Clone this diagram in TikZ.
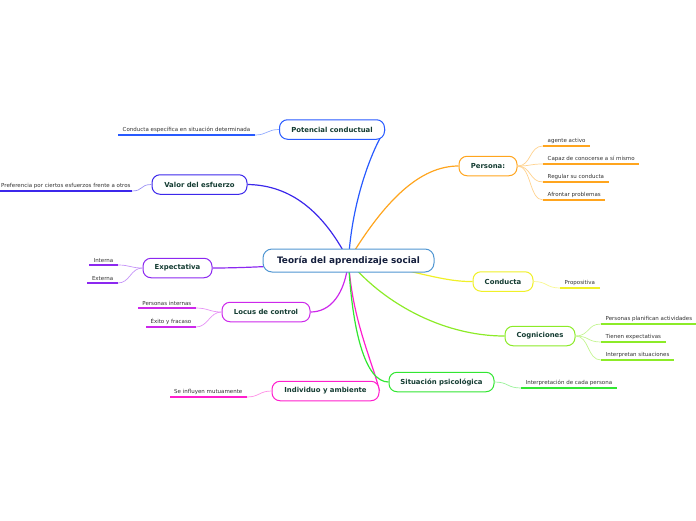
\documentclass[tikz,border=0pt]{standalone}
\usepackage{fontspec}
\setmainfont{DejaVu Sans}
\usetikzlibrary{backgrounds}
\definecolor{cblue}{RGB}{80,150,210}
\definecolor{cpot}{RGB}{40,90,255}
\definecolor{cval}{RGB}{60,40,235}
\definecolor{cexp}{RGB}{140,40,240}
\definecolor{cloc}{RGB}{205,40,235}
\definecolor{cind}{RGB}{255,30,205}
\definecolor{cper}{RGB}{255,165,30}
\definecolor{ccon}{RGB}{240,240,40}
\definecolor{ccog}{RGB}{140,235,40}
\definecolor{csit}{RGB}{50,230,50}
\definecolor{nodetext}{RGB}{20,60,50}
\definecolor{ctext}{RGB}{20,30,60}
\definecolor{leaftext}{RGB}{50,50,50}
\begin{document}
\begin{tikzpicture}[x=1pt,y=-1pt,
  mainbox/.style={draw=#1, line width=1pt, rounded corners=8pt, fill=white,
    minimum height=19.5pt, inner sep=0pt, text=nodetext,
    font=\bfseries\fontsize{6.9}{8}\selectfont},
  leafnode/.style={text=leaftext, inner xsep=4.5pt, inner ysep=2.2pt,
    font=\fontsize{5.5}{6.5}\selectfont},
  bigedge/.style={draw=#1, line width=1.2pt},
  twig/.style={draw=#1!50!white, line width=0.7pt},
  uline/.style={draw=#1, line width=1.5pt}]
\useasboundingbox (0,0) rectangle (696,520);

% central
\node[draw=cblue, line width=1pt, rounded corners=9pt, fill=white, minimum width=171pt,
  minimum height=23pt, inner sep=0pt, text=ctext, font=\bfseries\fontsize{8.9}{10}\selectfont]
  (c) at (348.5,260.5) {Teoría del aprendizaje social};

% main nodes
\node[mainbox=cpot, minimum width=105pt] (pot) at (332,129.5) {Potencial conductual};
\node[mainbox=cval, minimum width=95pt] (val) at (199.5,184.5) {Valor del esfuerzo};
\node[mainbox=cexp, minimum width=69pt] (exp) at (177.5,268) {Expectativa};
\node[mainbox=cloc, minimum width=88pt] (loc) at (266,312) {Locus de control};
\node[mainbox=cind, minimum width=107pt] (ind) at (325.5,391) {Individuo y ambiente};
\node[mainbox=cper, minimum width=58pt] (per) at (488,166) {Persona:};
\node[mainbox=ccon, minimum width=60pt] (con) at (503,281.5) {Conducta};
\node[mainbox=ccog, minimum width=70pt] (cog) at (540,336) {Cogniciones};
\node[mainbox=csit, minimum width=105pt] (sit) at (441.5,382) {Situación psicológica};

% leaves
\node[leafnode, anchor=south east] (l1) at (255,135) {Conducta específica en situación determinada};
\node[leafnode, anchor=south west, inner xsep=1pt] (l2) at (0,191) {Preferencia por ciertos esfuerzos frente a otros};
\node[leafnode, anchor=south east] (l3) at (118,265) {Interna};
\node[leafnode, anchor=south east] (l4) at (118,283) {Externa};
\node[leafnode, anchor=south east] (l5) at (196,308) {Personas internas};
\node[leafnode, anchor=south east] (l6) at (196,327) {Éxito y fracaso};
\node[leafnode, anchor=south east] (l7) at (247,397) {Se influyen mutuamente};
\node[leafnode, anchor=south west] (r1) at (543,146) {agente activo};
\node[leafnode, anchor=south west] (r2) at (543,164) {Capaz de conocerse a sí mismo};
\node[leafnode, anchor=south west] (r3) at (543,182) {Regular su conducta};
\node[leafnode, anchor=south west] (r4) at (543,200) {Afrontar problemas};
\node[leafnode, anchor=south west] (r5) at (560,288) {Propositiva};
\node[leafnode, anchor=south west] (r6) at (601,324) {Personas planifican actividades};
\node[leafnode, anchor=south west] (r7) at (601,342) {Tienen expectativas};
\node[leafnode, anchor=south west] (r8) at (601,360) {Interpretan situaciones};
\node[leafnode, anchor=south west] (r9) at (521,388) {Interpretación de cada persona};

\begin{scope}[on background layer]
\draw[bigedge=cpot] (c.center) .. controls (352,200) and (372,150) .. (pot.east);
\draw[bigedge=cval] (c.center) .. controls (320,205) and (285,185) .. (val.east);
\draw[bigedge=cexp] (c.center) .. controls (300,265) and (250,268) .. (exp.east);
\draw[bigedge=cloc] (c.center) .. controls (345,295) and (330,312) .. (loc.east);
\draw[bigedge=cind] (c.center) .. controls (352,320) and (372,360) .. (ind.east);
\draw[bigedge=cper] (c.center) .. controls (385,200) and (420,166) .. (per.west);
\draw[bigedge=ccon] (c.center) .. controls (410,268) and (440,282) .. (con.west);
\draw[bigedge=ccog] (c.center) .. controls (380,300) and (440,336) .. (cog.west);
\draw[bigedge=csit] (c.center) .. controls (352,330) and (365,382) .. (sit.west);
\end{scope}

% twigs and underlines (left side)
\foreach \n/\l/\col in {pot/l1/cpot, val/l2/cval, exp/l3/cexp, exp/l4/cexp, loc/l5/cloc, loc/l6/cloc, ind/l7/cind}{
  \draw[twig=\col] (\n.west) .. controls +(-12,0) and +(12,0) .. (\l.south east);
  \draw[uline=\col] (\l.south east) -- (\l.south west);
}
% right side
\foreach \n/\l/\col in {per/r1/cper, per/r2/cper, per/r3/cper, per/r4/cper, con/r5/ccon, cog/r6/ccog, cog/r7/ccog, cog/r8/ccog, sit/r9/csit}{
  \draw[twig=\col] (\n.east) .. controls +(14,0) and +(-14,0) .. (\l.south west);
  \draw[uline=\col] (\l.south west) -- (\l.south east);
}
\end{tikzpicture}
\end{document}
